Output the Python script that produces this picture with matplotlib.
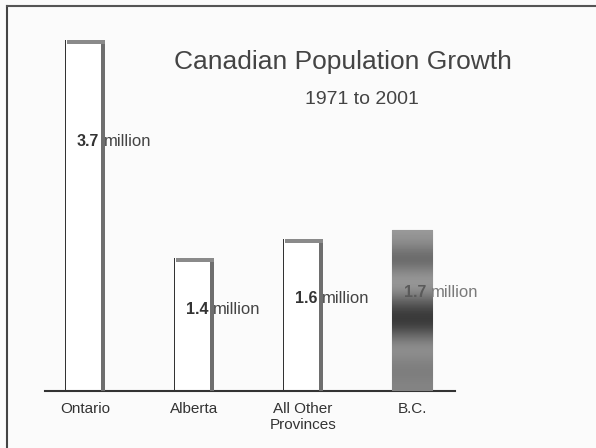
import numpy as np
import matplotlib
matplotlib.use("Agg")
import matplotlib.pyplot as plt
from matplotlib.lines import Line2D

categories = ["Ontario", "Alberta", "All Other\nProvinces", "B.C."]
values = [3.7, 1.4, 1.6, 1.7]
value_labels = ["3.7", "1.4", "1.6", "1.7"]
title = "Canadian Population Growth"
subtitle = "1971 to 2001"

plt.rcParams['font.family'] = ['Liberation Sans', 'DejaVu Sans']

fig = plt.figure(figsize=(5.96, 4.48), dpi=100)
fig.patch.set_facecolor('#fbfbfb')
ax = fig.add_axes([45/596, 1-391/448, 410/596, 360.5/448])
ax.set_facecolor('none')

x = np.arange(len(categories))
w = 0.37
label_frac = [0.71, 0.61, 0.61, 0.61]

for i, v in enumerate(values):
    if categories[i] == "B.C.":
        b = ax.bar(x[i], v, width=w, color='#6a6a6a', edgecolor='#8a8a8a', lw=0.8, zorder=2)[0]
        grad = np.array([0.6, 0.5, 0.38, 0.55, 0.62, 0.45, 0.25, 0.2, 0.4, 0.58, 0.52, 0.48, 0.52])[:, None]
        im = ax.imshow(grad, cmap='gray', vmin=0, vmax=1, aspect='auto',
                       extent=(x[i]-w/2, x[i]+w/2, 0, v), interpolation='bicubic', zorder=3)
        im.set_clip_path(b)
        txtcol = '#5a5a5a'
    else:
        ax.bar(x[i], v, width=w, color='white', edgecolor='none', zorder=2)
        ax.bar(x[i] + w/2 - 0.02, v, width=0.04, color='#6e6e6e', zorder=3)
        ax.bar(x[i] - w/2 + 0.003, v, width=0.008, color='#333333', zorder=3)
        ax.bar(x[i] + 0.01, 0.04, width=w - 0.02, bottom=v - 0.04, color='#8a8a8a', zorder=3)
        txtcol = '#333333'
    ly = v * label_frac[i]
    ax.text(x[i] + 0.13, ly, value_labels[i], ha='right', va='center', fontsize=11.5,
            fontweight='bold', color=txtcol, zorder=5)
    ax.text(x[i] + w/2 - 0.01, ly, "million", ha='left', va='center', fontsize=12,
            color='#7a7a7a' if categories[i] == "B.C." else '#444444', zorder=5)

ax.set_xlim(-0.367, 3.394)
ax.set_ylim(0, 3.8)
ax.set_xticks(x)
ax.set_xticklabels(categories, fontsize=11, color='#333333', linespacing=1.2)
ax.tick_params(axis='x', length=0, pad=8)
ax.set_yticks([])
for s in ['top', 'right', 'left']:
    ax.spines[s].set_visible(False)
ax.spines['bottom'].set_color('#333333')
ax.spines['bottom'].set_linewidth(1.5)

fig.text(343/596, 1-62/448, title, ha='center', va='center', fontsize=19, color='#444444')
fig.text(362/596, 1-100/448, subtitle, ha='center', va='center', fontsize=14, color='#444444')

fig.add_artist(Line2D([7/596, 7/596], [0, 1-6/448], color='#444444', lw=1.5))
fig.add_artist(Line2D([7/596, 1], [1-6/448, 1-6/448], color='#555555', lw=1.5))

fig.savefig("out.png", dpi=100, facecolor=fig.get_facecolor())
